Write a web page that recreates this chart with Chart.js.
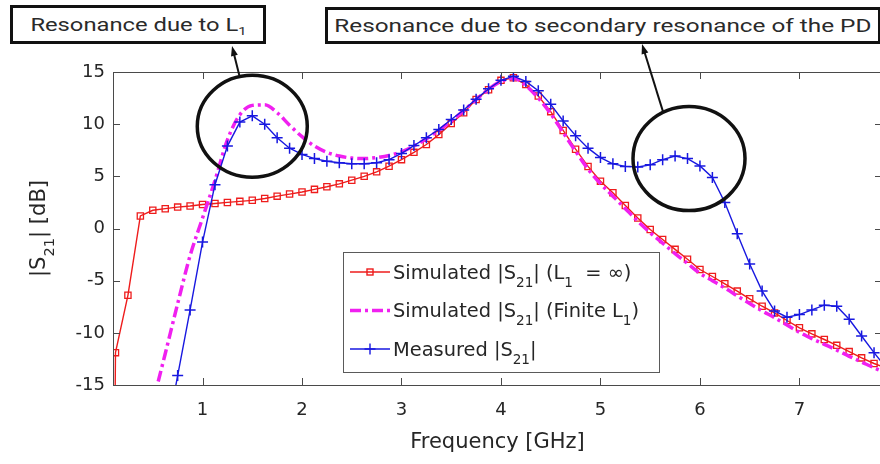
<!DOCTYPE html>
<html>
<head>
<meta charset="utf-8">
<script src="https://cdn.jsdelivr.net/npm/chart.js@4"></script>
<style>
  html, body { margin: 0; padding: 0; background: #fff; overflow: hidden; }
  #marco { position: relative; width: 880px; height: 464px; overflow: hidden; }
  #grafico { position: absolute; left: 0; top: 0; }
  .nota {
    position: absolute; box-sizing: border-box; background: #fff;
    border: 3px solid #111; color: #2a2a2a; white-space: nowrap;
    font-family: Roboto, "Noto Sans", sans-serif; font-size: 19px;
    display: flex; align-items: center; justify-content: center;
  }
  .nota span { display: inline-block; transform: scaleX(1.25); }
  .nota sub { font-size: 62%; position: relative; top: 0.35em; vertical-align: baseline; line-height: 0; }
</style>
</head>
<body>
<div id="marco">
  <canvas id="grafico" width="890" height="464"></canvas>
  <div class="nota" style="left:10px; top:5px; width:256px; height:39px;"><span>Resonance due to L<sub>1</sub></span></div>
  <div class="nota" style="left:325px; top:7px; width:556px; height:37px;"><span style="transform:scaleX(1.28)">Resonance due to secondary resonance of the PD</span></div>
</div>
<script>
// S21 medido vs simulado (dB) en función de la frecuencia (GHz)

const marcasX = [1, 2, 3, 4, 5, 6, 7];
const marcasY = [-15, -10, -5, 0, 5, 10, 15];

// Simulado |S21| (L1 = infinito) - rojo con cuadrados
const frecRojo = [0.1, 0.125, 0.25, 0.375, 0.5, 0.625, 0.75, 0.875, 1, 1.125, 1.25, 1.375, 1.5, 1.625, 1.75, 1.875,
  2, 2.125, 2.25, 2.375, 2.5, 2.625, 2.75, 2.875, 3, 3.125, 3.25, 3.375, 3.5, 3.625, 3.75, 3.875,
  4, 4.125, 4.25, 4.375, 4.5, 4.625, 4.75, 4.875, 5, 5.125, 5.25, 5.375, 5.5, 5.625, 5.75, 5.875,
  6, 6.125, 6.25, 6.375, 6.5, 6.625, 6.75, 6.875, 7, 7.125, 7.25, 7.375, 7.5, 7.625, 7.75, 7.875];
const s21Rojo = [-40, -11.9, -6.4, 1.2, 1.75, 1.9, 2.05, 2.15, 2.3, 2.4, 2.5, 2.6, 2.7, 2.87, 3.1, 3.3,
  3.5, 3.75, 4.0, 4.28, 4.63, 5.0, 5.43, 5.97, 6.6, 7.3, 8.05, 9.0, 10.07, 11.1, 12.37, 13.3,
  14.2, 14.45, 13.8, 12.7, 11.2, 9.4, 7.6, 5.95, 4.53, 3.42, 2.2, 1.0, -0.1, -1.05, -2.0, -2.95,
  -3.93, -4.6, -5.3, -6.0, -6.74, -7.45, -8.09, -8.82, -9.52, -10.1, -10.64, -11.2, -11.8, -12.4, -12.94, -13.4];

// Simulado |S21| (L1 finito) - magenta punto y raya
const frecMagenta = [0.5, 0.625, 0.75, 0.875, 1, 1.125, 1.25, 1.375, 1.5, 1.625, 1.75, 1.875,
  2, 2.125, 2.25, 2.375, 2.5, 2.625, 2.75, 2.875, 3, 3.125, 3.25, 3.375, 3.5, 3.625, 3.75, 3.875,
  4, 4.125, 4.25, 4.375, 4.5, 4.625, 4.75, 4.875, 5, 5.125, 5.25, 5.375, 5.5, 5.625, 5.75, 5.875,
  6, 6.125, 6.25, 6.375, 6.5, 6.625, 6.75, 6.875, 7, 7.125, 7.25, 7.375, 7.5, 7.625, 7.75, 7.875];
const s21Magenta = [-16.7, -12.0, -7.2, -2.6, 1.0, 4.6, 8.5, 10.9, 11.8, 11.85, 11.1, 9.9,
  8.8, 7.9, 7.3, 6.95, 6.75, 6.7, 6.8, 7.0, 7.35, 7.9, 8.6, 9.4, 10.3, 11.3, 12.35, 13.35,
  14.1, 14.4, 13.7, 12.5, 11.0, 9.2, 7.4, 5.7, 4.3, 3.1, 1.9, 0.7, -0.4, -1.4, -2.4, -3.35,
  -4.3, -5.0, -5.7, -6.45, -7.2, -7.9, -8.55, -9.25, -9.95, -10.55, -11.1, -11.65, -12.25, -12.8, -13.35, -13.85];

// Medido |S21| - azul con cruces
const frecAzul = [0.625, 0.75, 0.875, 1, 1.125, 1.25, 1.375, 1.5, 1.625, 1.75, 1.875,
  2, 2.125, 2.25, 2.375, 2.5, 2.625, 2.75, 2.875, 3, 3.125, 3.25, 3.375, 3.5, 3.625, 3.75, 3.875,
  4, 4.125, 4.25, 4.375, 4.5, 4.625, 4.75, 4.875, 5, 5.125, 5.25, 5.375, 5.5, 5.625, 5.75, 5.875,
  6, 6.125, 6.25, 6.375, 6.5, 6.625, 6.75, 6.875, 7, 7.125, 7.25, 7.375, 7.5, 7.625, 7.75, 7.875];
const s21Azul = [-20.5, -14.1, -7.8, -1.3, 4.2, 7.9, 10.2, 10.8, 10.0, 8.7, 7.7,
  7.1, 6.7, 6.45, 6.3, 6.2, 6.2, 6.3, 6.6, 7.2, 7.95, 8.7, 9.5, 10.45, 11.35, 12.4, 13.4,
  14.2, 14.6, 14.1, 13.2, 11.9, 10.3, 8.9, 7.7, 6.8, 6.2, 5.95, 5.9, 6.1, 6.6, 6.95, 6.7,
  6.0, 4.9, 2.5, -0.5, -3.4, -6.0, -7.9, -8.5, -8.25, -7.8, -7.35, -7.45, -8.7, -10.3, -11.9, -13.4];

// Círculos de anotación (centro en GHz / dB, radios en px)
const circulos = [
  { f: 1.5, db: 9.8, rx: 55, ry: 51, pie: [-13, -51], flecha: [232, 46] },
  { f: 5.89, db: 6.7, rx: 56, ry: 52, pie: [-26, -47], flecha: [642, 44] }
];

const ROJO = '#ee1c1c';
const MAGENTA = '#f020f0';
const AZUL = '#1818e0';
const FUENTE = '"DejaVu Sans", Verdana, sans-serif';
const GUION = [11, 4, 3, 4];

const puntos = (fs, vs) => fs.map((f, i) => ({ x: f, y: vs[i] }));

function textoRico(ctx, partes, x, y, tam, alinear) {
  let ancho = 0;
  partes.forEach(([t, sub]) => {
    ctx.font = (sub ? tam * 0.7 : tam) + 'px ' + FUENTE;
    ancho += ctx.measureText(t).width;
  });
  let cx = alinear === 'center' ? x - ancho / 2 : x;
  ctx.textAlign = 'left';
  ctx.textBaseline = 'alphabetic';
  partes.forEach(([t, sub]) => {
    ctx.font = (sub ? tam * 0.7 : tam) + 'px ' + FUENTE;
    ctx.fillText(t, cx, sub ? y + tam * 0.42 : y);
    cx += ctx.measureText(t).width;
  });
}

const adornos = {
  id: 'adornos',
  afterDraw(chart) {
    const { ctx, chartArea: a, scales: { x, y } } = chart;
    ctx.save();

    // caja de ejes con marcas hacia dentro
    ctx.strokeStyle = '#4a4a4a';
    ctx.lineWidth = 1;
    ctx.strokeRect(a.left + 0.5, a.top + 0.5, a.right - a.left, a.bottom - a.top);
    ctx.beginPath();
    marcasX.forEach(v => {
      const px = Math.round(x.getPixelForValue(v)) + 0.5;
      ctx.moveTo(px, a.bottom); ctx.lineTo(px, a.bottom - 7);
      ctx.moveTo(px, a.top); ctx.lineTo(px, a.top + 7);
    });
    marcasY.forEach(v => {
      const py = Math.round(y.getPixelForValue(v)) + 0.5;
      ctx.moveTo(a.left, py); ctx.lineTo(a.left + 7, py);
      ctx.moveTo(a.right, py); ctx.lineTo(a.right - 7, py);
    });
    ctx.stroke();

    // títulos de ejes
    ctx.fillStyle = '#262626';
    textoRico(ctx, [['Frequency [GHz]']], (a.left + a.right) / 2, 448, 21, 'center');
    ctx.save();
    ctx.translate(45, (a.top + a.bottom) / 2);
    ctx.rotate(-Math.PI / 2);
    textoRico(ctx, [['|S'], ['21', true], ['| [dB]']], 0, 0, 21, 'center');
    ctx.restore();

    // círculos y flechas
    ctx.strokeStyle = '#111';
    ctx.fillStyle = '#111';
    circulos.forEach(c => {
      const cx = x.getPixelForValue(c.f), cy = y.getPixelForValue(c.db);
      ctx.lineWidth = 3.5;
      ctx.beginPath();
      ctx.ellipse(cx, cy, c.rx, c.ry, 0, 0, Math.PI * 2);
      ctx.stroke();
      const x0 = cx + c.pie[0], y0 = cy + c.pie[1];
      const [x1, y1] = c.flecha;
      const ang = Math.atan2(y1 - y0, x1 - x0);
      ctx.lineWidth = 2;
      ctx.beginPath();
      ctx.moveTo(x0, y0);
      ctx.lineTo(x1 - Math.cos(ang) * 6, y1 - Math.sin(ang) * 6);
      ctx.stroke();
      ctx.beginPath();
      ctx.moveTo(x1, y1);
      ctx.lineTo(x1 - Math.cos(ang) * 10 + Math.sin(ang) * 3.5, y1 - Math.sin(ang) * 10 - Math.cos(ang) * 3.5);
      ctx.lineTo(x1 - Math.cos(ang) * 10 - Math.sin(ang) * 3.5, y1 - Math.sin(ang) * 10 + Math.cos(ang) * 3.5);
      ctx.closePath();
      ctx.fill();
    });

    // leyenda
    const lx = 343, ly = 252, lw = 316, lh = 120;
    ctx.fillStyle = '#fff';
    ctx.fillRect(lx, ly, lw, lh);
    ctx.strokeStyle = '#5a5a5a';
    ctx.lineWidth = 1;
    ctx.strokeRect(lx + 0.5, ly + 0.5, lw, lh);
    const filas = [
      { color: ROJO, ancho: 1.4, marca: 'rect', texto: [['Simulated |S'], ['21', true], ['| (L'], ['1', true], ['  = \u221E)']] },
      { color: MAGENTA, ancho: 3.5, guion: true, texto: [['Simulated |S'], ['21', true], ['| (Finite L'], ['1', true], [')']] },
      { color: AZUL, ancho: 1.4, marca: 'cross', texto: [['Measured |S'], ['21', true], ['|']] }
    ];
    filas.forEach((fila, i) => {
      const yc = 272 + i * 38.5;
      ctx.strokeStyle = fila.color;
      ctx.lineWidth = fila.ancho;
      ctx.setLineDash(fila.guion ? GUION : []);
      ctx.beginPath();
      ctx.moveTo(350, yc); ctx.lineTo(390, yc);
      ctx.stroke();
      ctx.setLineDash([]);
      if (fila.marca === 'rect') {
        ctx.strokeRect(367, yc - 3, 6, 6);
      } else if (fila.marca === 'cross') {
        ctx.beginPath();
        ctx.moveTo(364.5, yc); ctx.lineTo(375.5, yc);
        ctx.moveTo(370, yc - 5.5); ctx.lineTo(370, yc + 5.5);
        ctx.stroke();
      }
      ctx.fillStyle = '#262626';
      textoRico(ctx, fila.texto, 393, yc + 6.5, 19.4, 'left');
    });

    ctx.restore();
  }
};

new Chart(document.getElementById('grafico'), {
  type: 'line',
  data: {
    datasets: [
      {
        label: 'Simulated |S21| (L1 = ∞)',
        data: puntos(frecRojo, s21Rojo),
        borderColor: ROJO,
        borderWidth: 1.4,
        pointStyle: 'rect',
        pointRadius: 4.4,
        pointBorderWidth: 1.3,
        pointBorderColor: ROJO,
        pointBackgroundColor: 'rgba(0,0,0,0)',
        tension: 0,
        order: 3
      },
      {
        label: 'Simulated |S21| (Finite L1)',
        data: puntos(frecMagenta, s21Magenta),
        borderColor: MAGENTA,
        borderWidth: 3.5,
        borderDash: GUION,
        pointRadius: 0,
        cubicInterpolationMode: 'monotone',
        order: 2
      },
      {
        label: 'Measured |S21|',
        data: puntos(frecAzul, s21Azul),
        borderColor: AZUL,
        borderWidth: 1.4,
        pointStyle: 'cross',
        pointRadius: 5.5,
        pointBorderWidth: 1.5,
        pointBorderColor: AZUL,
        tension: 0,
        order: 1
      }
    ]
  },
  options: {
    responsive: false,
    animation: false,
    events: [],
    layout: { padding: { left: 0, right: 8, top: 72, bottom: 0 } },
    plugins: { legend: { display: false }, tooltip: { enabled: false } },
    scales: {
      x: {
        type: 'linear',
        min: 0.1,
        max: 7.83,
        grid: { display: false, drawTicks: false },
        border: { display: false },
        afterBuildTicks: s => { s.ticks = marcasX.map(v => ({ value: v })); },
        afterFit: s => { s.height = 79; },
        ticks: { padding: 15, color: '#262626', font: { family: FUENTE, size: 18 }, maxRotation: 0, autoSkip: false }
      },
      y: {
        type: 'linear',
        min: -15,
        max: 15,
        grid: { display: false, drawTicks: false },
        border: { display: false },
        afterBuildTicks: s => { s.ticks = marcasY.map(v => ({ value: v })); },
        afterFit: s => { s.width = 113; },
        ticks: { padding: 8, color: '#262626', font: { family: FUENTE, size: 18 }, autoSkip: false }
      }
    }
  },
  plugins: [adornos]
});
</script>
</body>
</html>
